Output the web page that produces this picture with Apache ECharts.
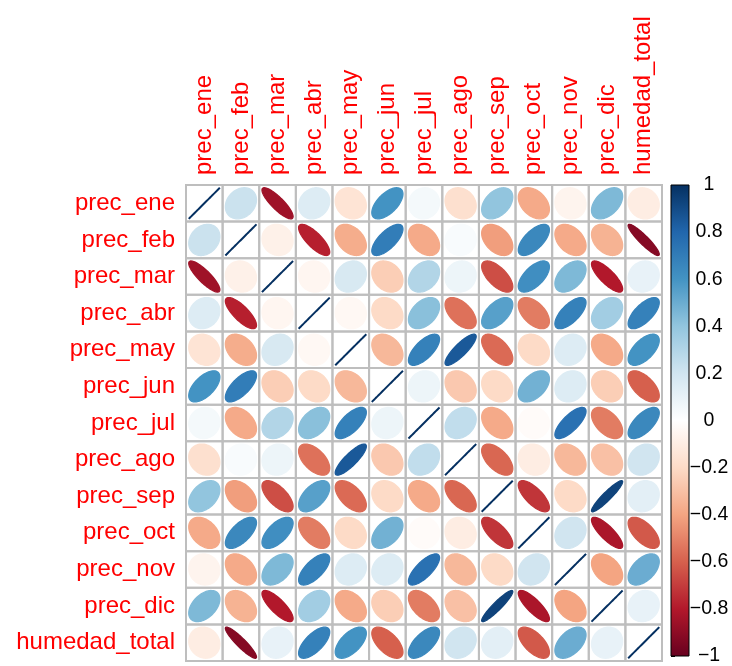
<!DOCTYPE html>
<html>
<head>
<meta charset="utf-8">
<script src="https://cdn.jsdelivr.net/npm/echarts@6/dist/echarts.min.js"></script>
<style>
  html, body { margin: 0; padding: 0; background: #ffffff; }
  #chart { width: 732px; height: 666px; }
</style>
</head>
<body>
<div id="chart"></div>
<script>
// Variable names (rows and columns of the correlation matrix)
const variables = [
  'prec_ene', 'prec_feb', 'prec_mar', 'prec_abr', 'prec_may', 'prec_jun',
  'prec_jul', 'prec_ago', 'prec_sep', 'prec_oct', 'prec_nov', 'prec_dic',
  'humedad_total'
];

// Pearson correlation matrix, one row per variable
const correlations = [
  [ 1.00,  0.22, -0.85,  0.15, -0.15,  0.60,  0.05, -0.17,  0.40, -0.38, -0.06,  0.45, -0.10],
  [ 0.22,  1.00, -0.08, -0.78, -0.37,  0.70, -0.38,  0.03, -0.42,  0.65, -0.38, -0.35, -0.92],
  [-0.85, -0.08,  1.00, -0.05,  0.17, -0.25,  0.30,  0.08, -0.65,  0.62,  0.45, -0.80,  0.10],
  [ 0.15, -0.78, -0.05,  1.00, -0.04, -0.20,  0.42, -0.55,  0.55, -0.52,  0.68,  0.35,  0.68],
  [-0.15, -0.37,  0.17, -0.04,  1.00, -0.33,  0.68,  0.85, -0.57, -0.20,  0.15, -0.38,  0.60],
  [ 0.60,  0.70, -0.25, -0.20, -0.33,  1.00,  0.08, -0.27, -0.20,  0.48,  0.15, -0.25, -0.60],
  [ 0.05, -0.38,  0.30,  0.42,  0.68,  0.08,  1.00,  0.25, -0.38, -0.02,  0.75, -0.52,  0.65],
  [-0.17,  0.03,  0.08, -0.55,  0.85, -0.27,  0.25,  1.00, -0.58, -0.10, -0.33, -0.30,  0.20],
  [ 0.40, -0.42, -0.65,  0.55, -0.57, -0.20, -0.38, -0.58,  1.00, -0.72, -0.20,  0.93,  0.12],
  [-0.38,  0.65,  0.62, -0.52, -0.20,  0.48, -0.02, -0.10, -0.72,  1.00,  0.20, -0.82, -0.62],
  [-0.06, -0.38,  0.45,  0.68,  0.15,  0.15,  0.75, -0.33, -0.20,  0.20,  1.00, -0.40,  0.50],
  [ 0.45, -0.35, -0.80,  0.35, -0.38, -0.25, -0.52, -0.30,  0.93, -0.82, -0.40,  1.00,  0.10],
  [-0.10, -0.92,  0.10,  0.68,  0.60, -0.60,  0.65,  0.20,  0.12, -0.62,  0.50,  0.10,  1.00]
];

// Colour legend ticks
const legendTicks = [-1, -0.8, -0.6, -0.4, -0.2, 0, 0.2, 0.4, 0.6, 0.8, 1];

// Diverging red-blue palette from -1 (first) to +1 (last)
const palette = ['#67001F', '#B2182B', '#D6604D', '#F4A582', '#FDDBC7', '#FFFFFF',
                 '#D1E5F0', '#92C5DE', '#4393C3', '#2166AC', '#053061'];

function hexToRgb(h) {
  return [parseInt(h.slice(1, 3), 16), parseInt(h.slice(3, 5), 16), parseInt(h.slice(5, 7), 16)];
}

function colorFor(r) {
  const t = (Math.max(-1, Math.min(1, r)) + 1) / 2 * (palette.length - 1);
  const i = Math.min(palette.length - 2, Math.floor(t));
  const f = t - i;
  const a = hexToRgb(palette[i]), b = hexToRgb(palette[i + 1]);
  const c = a.map((v, k) => Math.round(v + (b[k] - v) * f));
  return 'rgb(' + c.join(',') + ')';
}

const cells = [];
correlations.forEach((row, i) => row.forEach((r, j) => cells.push([j, i, r])));

function renderCell(params, api) {
  const xi = api.value(0), yi = api.value(1), r = api.value(2);
  const c = api.coord([xi, yi]);
  const sz = api.size([1, 1]);
  const w = sz[0], h = sz[1];
  const a = Math.acos(Math.max(-1, Math.min(1, r)));
  const pts = [];
  const n = 99;
  for (let k = 0; k < n; k++) {
    const t = 2 * Math.PI * k / (n - 1);
    pts.push([
      c[0] + 0.85 * w * Math.cos(t + a / 2) / 2,
      c[1] - 0.85 * h * Math.cos(t - a / 2) / 2
    ]);
  }
  const col = colorFor(r);
  return {
    type: 'group',
    children: [
      { type: 'rect', shape: { x: c[0] - w / 2, y: c[1] - h / 2, width: w, height: h },
        style: { fill: 'none', stroke: '#BEBEBE', lineWidth: 2 } },
      { type: 'polygon', shape: { points: pts },
        style: { fill: col, stroke: col, lineWidth: Math.abs(r) > 0.999 ? 2 : 1.3 } }
    ]
  };
}

function renderLegendBar(params, api) {
  const top = api.coord([0, legendTicks[legendTicks.length - 1]]);
  const bottom = api.coord([1, legendTicks[0]]);
  const stops = palette.map((c, i) => ({ offset: i / (palette.length - 1), color: c }));
  return {
    type: 'rect',
    shape: { x: top[0], y: top[1], width: bottom[0] - top[0], height: bottom[1] - top[1] },
    style: {
      // gradient runs from +1 at the top to -1 at the bottom
      fill: new echarts.graphic.LinearGradient(0, 1, 0, 0, stops),
      stroke: '#000000', lineWidth: 1
    }
  };
}

function legendLabel(v) {
  if (Math.abs(v) < 1e-9) return '0';
  const s = String(+Math.abs(v).toFixed(1));
  return (v < 0 ? '\u2212' : '') + s;
}

const chart = echarts.init(document.getElementById('chart'), null, { renderer: 'canvas' });
chart.setOption({
  animation: false,
  backgroundColor: '#ffffff',
  textStyle: { fontFamily: 'Liberation Sans, Arial, sans-serif' },
  grid: [
    { left: 186, top: 185, width: 476, height: 476, containLabel: false },
    { left: 671, top: 185, width: 18, height: 476, containLabel: false }
  ],
  xAxis: [
    {
      gridIndex: 0, type: 'category', data: variables, position: 'top',
      axisLine: { show: false }, axisTick: { show: false }, splitLine: { show: false },
      axisLabel: { interval: 0, rotate: -90, color: '#FF0000', fontSize: 24, margin: 10,
                   fontFamily: 'Liberation Sans, Arial, sans-serif' }
    },
    {
      gridIndex: 1, type: 'value', min: 0, max: 1, show: false
    }
  ],
  yAxis: [
    {
      gridIndex: 0, type: 'category', data: variables, inverse: true,
      axisLine: { show: false }, axisTick: { show: false }, splitLine: { show: false },
      axisLabel: { interval: 0, color: '#FF0000', fontSize: 24, margin: 11,
                   fontFamily: 'Liberation Sans, Arial, sans-serif' }
    },
    {
      gridIndex: 1, type: 'value', min: -1, max: 1, interval: 0.2, position: 'right',
      axisLine: { show: false }, splitLine: { show: false },
      axisTick: { show: true, length: 4, lineStyle: { color: '#000000', width: 1 } },
      axisLabel: { color: '#000000', fontSize: 19.5, margin: 20, align: 'center',
                   formatter: legendLabel,
                   fontFamily: 'Liberation Sans, Arial, sans-serif' }
    }
  ],
  series: [
    {
      type: 'custom', xAxisIndex: 0, yAxisIndex: 0,
      renderItem: renderCell, data: cells, silent: true, clip: false
    },
    {
      type: 'custom', xAxisIndex: 1, yAxisIndex: 1,
      renderItem: renderLegendBar, data: [[0, 0]], silent: true, clip: false
    }
  ]
});
</script>
</body>
</html>
